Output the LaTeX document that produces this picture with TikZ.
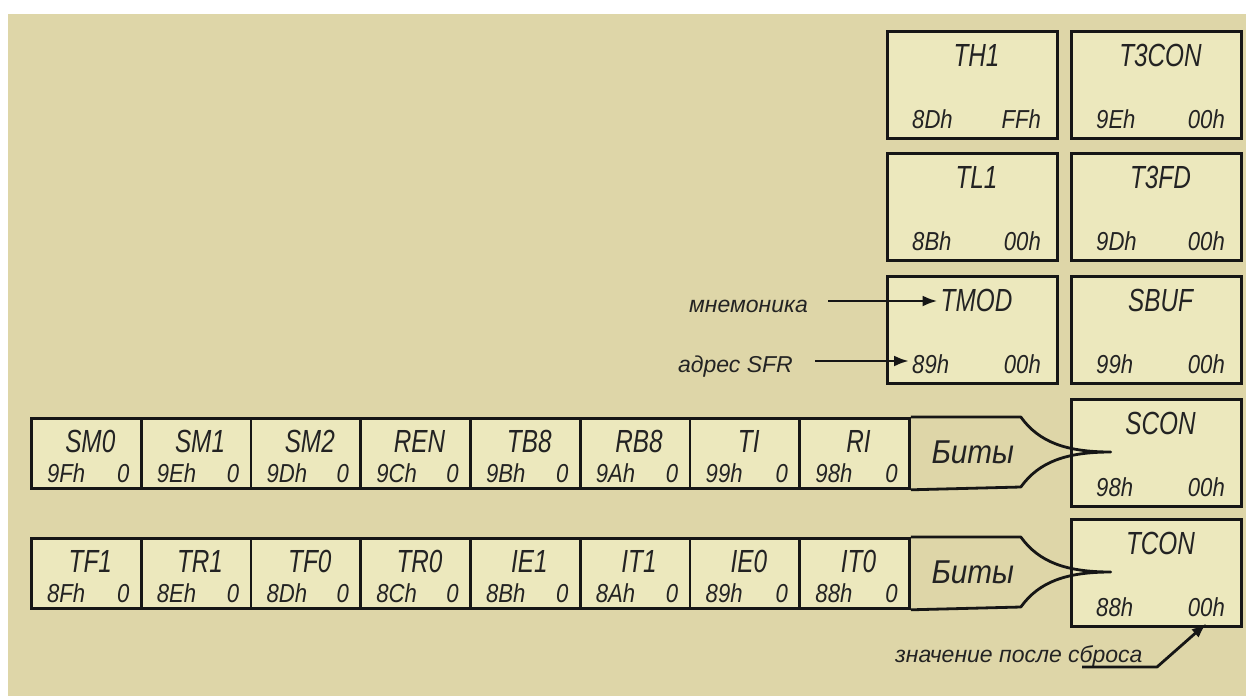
\documentclass[tikz,border=0pt]{standalone}
\usepackage{fontspec}
\setmainfont{Liberation Sans}
\newfontfamily\fnm{Liberation Sans}[FakeStretch=0.76]
\newfontfamily\fvl{Liberation Sans}[FakeStretch=0.85]
\newfontfamily\fbt{Liberation Sans}[FakeStretch=0.9]
\usetikzlibrary{calc,arrows.meta}
\definecolor{bg}{RGB}{222,214,168}
\definecolor{boxfill}{RGB}{236,232,189}
\definecolor{ink}{RGB}{22,22,22}
\definecolor{txt}{RGB}{35,35,35}
\tikzset{
 reg/.style={draw=ink, line width=3pt, fill=boxfill, minimum width=170pt, minimum height=107pt, inner sep=0pt, anchor=north west},
 bitcell/.style={draw=ink, line width=2.8pt, fill=boxfill, minimum width=109.75pt, minimum height=70pt, inner sep=0pt, anchor=north west},
 nm/.style={font=\fnm\itshape\fontsize{32}{32}\selectfont, text=txt, inner sep=3pt},
 vl/.style={font=\fvl\itshape\fontsize{26}{26}\selectfont, text=txt, inner sep=3pt},
 bt/.style={font=\fbt\itshape\fontsize{33}{33}\selectfont, text=txt, inner sep=3pt, anchor=base},
 lab/.style={font=\itshape\fontsize{23}{23}\selectfont, text=txt, inner sep=0pt},
 conn/.style={draw=ink, line width=2.8pt, line join=round},
 arr/.style={conn, -{Latex[length=15pt,width=11pt]}},
}
\newcommand\regbox[6]{%
 \node[reg] (#1) at (#2,#3) {};
 \node[nm, anchor=base] (#1-n) at ($(#1.north)+(4,36)$) {#4};
 \node[vl, anchor=base west] (#1-a) at ($(#1.north west)+(23,98)$) {#5};
 \node[vl, anchor=base east] (#1-v) at ($(#1.north east)+(-15,98)$) {#6};
}
\newcommand\bitbox[5]{%
 \node[bitcell] (#1) at (#2,#3) {};
 \node[nm, anchor=base] (#1-n) at ($(#1.north)+(4,35)$) {#4};
 \node[vl, anchor=base west] (#1-a) at ($(#1.north west)+(14,65)$) {#5};
 \node[vl, anchor=base east] (#1-v) at ($(#1.north east)+(-10,65)$) {0};
}
\begin{document}
\begin{tikzpicture}[x=1pt,y=-1pt]
\useasboundingbox (0,0) rectangle (1246,696);
\fill[bg] (8,14) rectangle (1246,696);
% register boxes
\regbox{th1}{886}{30}{TH1}{8Dh}{FFh}
\regbox{tl1}{886}{152}{TL1}{8Bh}{00h}
\regbox{tmod}{886}{275}{TMOD}{89h}{00h}
\regbox{t3con}{1070}{30}{T3CON}{9Eh}{00h}
\regbox{t3fd}{1070}{152}{T3FD}{9Dh}{00h}
\regbox{sbuf}{1070}{275}{SBUF}{99h}{00h}
\regbox{scon}{1070}{398}{SCON}{98h}{00h}
\regbox{tcon}{1070}{518}{TCON}{88h}{00h}
% bit rows
\foreach \i/\n/\a in {0/SM0/9Fh,1/SM1/9Eh,2/SM2/9Dh,3/REN/9Ch,4/TB8/9Bh,5/RB8/9Ah,6/TI/99h,7/RI/98h}{
 \bitbox{a\i}{30+\i*109.75}{417}{\n}{\a}
}
\foreach \i/\n/\a in {0/TF1/8Fh,1/TR1/8Eh,2/TF0/8Dh,3/TR0/8Ch,4/IE1/8Bh,5/IT1/8Ah,6/IE0/89h,7/IT0/88h}{
 \bitbox{b\i}{30+\i*109.75}{537}{\n}{\a}
}
% "Bits" tails
\draw[conn] (a7.north east) -- ++(110,0) .. controls +(18,25) and +(-45,0) .. ++(90,35) coordinate (atip)
  .. controls +(-45,0) and +(18,-25) .. ++(-90,35) -- (a7.south east);
\node[bt] (abits) at ($(a7.east)+(62,10)$) {Биты};
\draw[conn] (b7.north east) -- ++(110,0) .. controls +(18,25) and +(-45,0) .. ++(90,35) coordinate (btip)
  .. controls +(-45,0) and +(18,-25) .. ++(-90,35) -- (b7.south east);
\node[bt] (bbits) at ($(b7.east)+(62,10)$) {Биты};
% labels
\node[lab, anchor=base east] (mn) at (808,312) {мнемоника};
\node[lab, anchor=base east] (ad) at (793,372) {адрес SFR};
\coordinate (mnS) at (828,301);
\draw[arr] (mnS) -- (mnS -| tmod-n.west);
\coordinate (adS) at (815,361);
\draw[arr] (adS) -- (adS -| tmod-a.west);
\node[lab, anchor=base west] (rst) at (895,662) {значение после сброса};
\coordinate (u1) at (1082,667);
\coordinate (u2) at (1157,667);
\draw[arr] (u1) -- (u2) -- ($(tcon-v.south)+(0,4)$);
\end{tikzpicture}
\end{document}
